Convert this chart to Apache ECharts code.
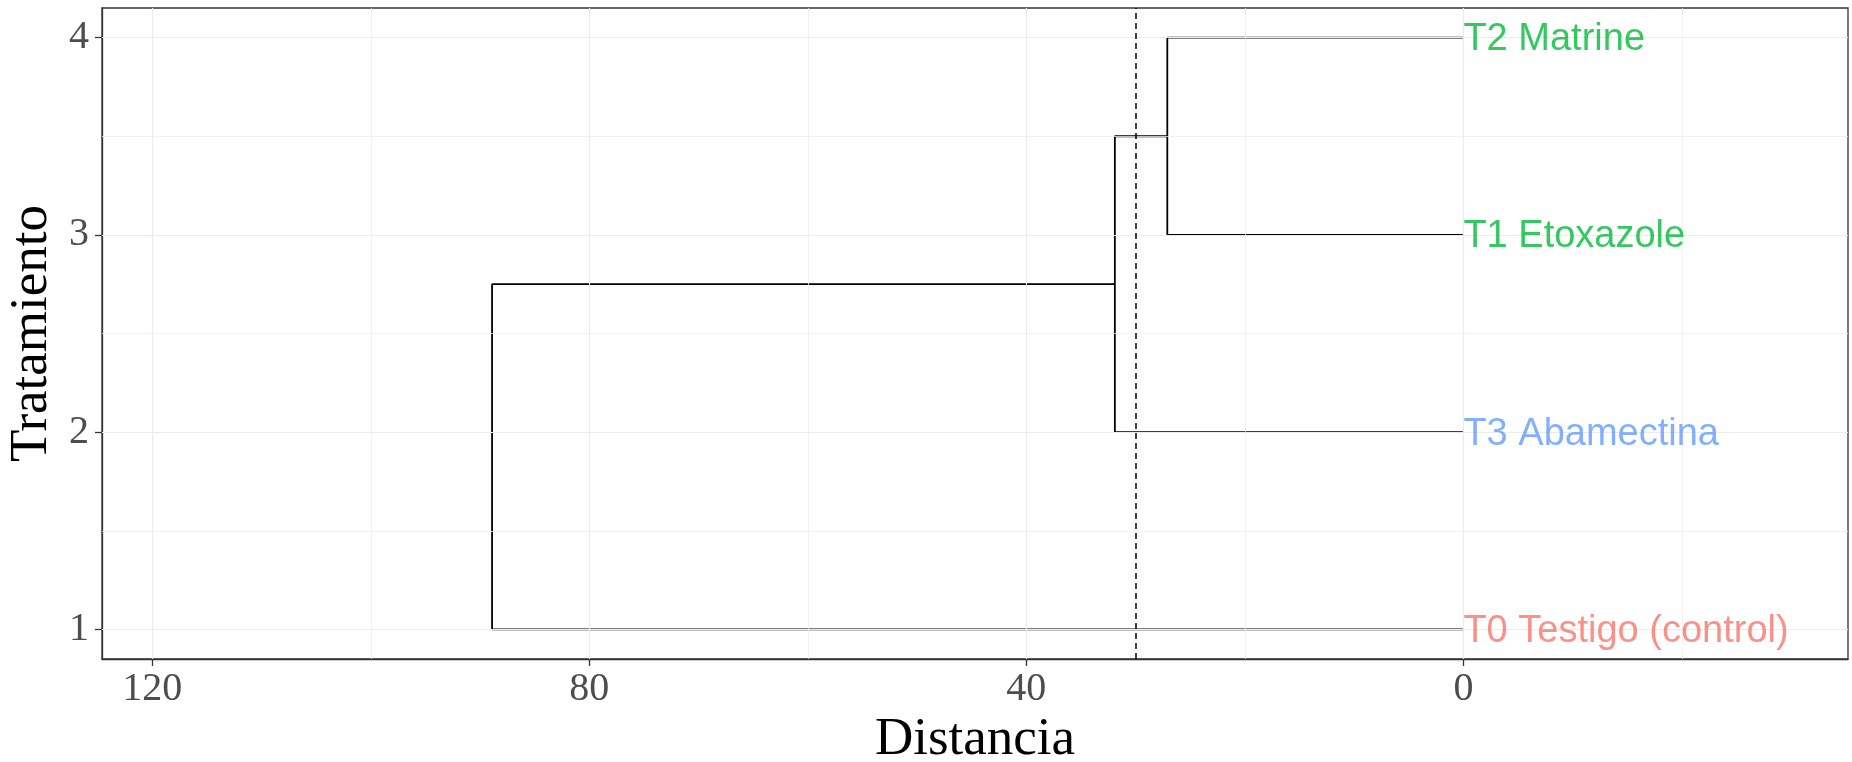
<!DOCTYPE html>
<html><head><meta charset="utf-8">
<script src="https://cdn.jsdelivr.net/npm/echarts@6/dist/echarts.min.js"></script>
<style>html,body{margin:0;padding:0;background:#fff}#c{width:1852px;height:762px}</style>
</head><body><div id="c"></div>
<script>
// ---- data ----
const leafLabels = ['T0 Testigo (control)', 'T3 Abamectina', 'T1 Etoxazole', 'T2 Matrine'];
const leafPositions = [1, 2, 3, 4];
const leafColors = ['#F8766D', '#619CFF', '#00BA38', '#00BA38'];
// hclust-style merges: negative = leaf (1-based), positive = earlier merge (1-based)
const mergePairs = [[-3, -4], [-2, 1], [-1, 2]];
const mergeHeights = [27.1, 31.9, 88.9];
const cutHeight = 30;
const xTicks = [120, 80, 40, 0];
const xMinorGrid = [100, 60, 20, -20];
const yTicks = [1, 2, 3, 4];
const yMinorGrid = [1.5, 2.5, 3.5];
const xRange = [-35.2, 124.6];
const yRange = [0.85, 4.15];

// ---- build dendrogram ----
const nodes = [];
function nodeOf(ref) { return ref < 0 ? { h: 0, y: leafPositions[-ref - 1] } : nodes[ref - 1]; }
const segSeries = [];
mergePairs.forEach((p, i) => {
  const a = nodeOf(p[0]), b = nodeOf(p[1]);
  const h = mergeHeights[i];
  nodes.push({ h: h, y: (a.y + b.y) / 2 });
  segSeries.push({
    type: 'line', z: 3, silent: true, showSymbol: false, symbol: 'none',
    lineStyle: { color: '#000', width: 1.8 },
    data: [[a.h, a.y], [h, a.y], [h, b.y], [b.h, b.y]]
  });
});

const serif = 'Liberation Serif, Times New Roman, serif';
const sans = 'Liberation Sans, Arial, sans-serif';

const gridSeries = {
  type: 'line', z: 1, silent: true, data: [],
  markLine: {
    silent: true, symbol: 'none', animation: false, label: { show: false },
    lineStyle: { color: '#EBEBEB', type: 'solid', width: 1.2 },
    data: [].concat(
      xTicks.map(v => ({ xAxis: v })),
      yTicks.map(v => ({ yAxis: v })),
      xMinorGrid.map(v => ({ xAxis: v, lineStyle: { width: 0.8, color: '#EFEFEF', type: 'solid' } })),
      yMinorGrid.map(v => ({ yAxis: v, lineStyle: { width: 0.8, color: '#EFEFEF', type: 'solid' } }))
    )
  }
};

const cutSeries = {
  type: 'line', z: 4, silent: true, data: [],
  markLine: {
    silent: true, symbol: 'none', animation: false, label: { show: false },
    lineStyle: { color: '#000', type: [6, 4], width: 1.5 },
    data: [{ xAxis: cutHeight }]
  }
};

const labelSeries = {
  type: 'scatter', z: 5, silent: true, symbolSize: 0,
  data: leafPositions.map((y, i) => ({ value: [0, y], label: { color: leafColors[i] } })),
  label: {
    show: true, position: 'right', distance: 0, offset: [0, 2],
    fontFamily: sans, fontSize: 38,
    formatter: p => leafLabels[p.dataIndex]
  }
};

const chart = echarts.init(document.getElementById('c'), null, { renderer: 'canvas' });
chart.setOption({
  animation: false,
  backgroundColor: '#fff',
  grid: { left: 102, right: 4, top: 8, bottom: 103, containLabel: false, outerBoundsMode: 'none',
          show: true, borderColor: '#333', borderWidth: 1.3, backgroundColor: '#fff' },
  xAxis: {
    type: 'value', inverse: true, min: xRange[0], max: xRange[1],
    axisLine: { show: true, onZero: false, lineStyle: { color: '#333', width: 1.3 } },
    splitLine: { show: false },
    axisTick: { show: true, customValues: xTicks, length: 7, lineStyle: { color: '#333', width: 1.3 } },
    axisLabel: { customValues: xTicks, fontSize: 40, fontFamily: serif, color: '#4D4D4D', margin: 10 },
    name: 'Distancia', nameLocation: 'middle', nameGap: 54,
    nameTextStyle: { fontSize: 53, fontFamily: serif, color: '#000' }
  },
  yAxis: {
    type: 'value', min: yRange[0], max: yRange[1],
    axisLine: { show: true, onZero: false, lineStyle: { color: '#333', width: 1.3 } },
    splitLine: { show: false },
    axisTick: { show: true, customValues: yTicks, length: 7, lineStyle: { color: '#333', width: 1.3 } },
    axisLabel: { customValues: yTicks, fontSize: 40, fontFamily: serif, color: '#4D4D4D', margin: 13 },
    name: 'Tratamiento', nameLocation: 'middle', nameGap: 8,
    nameTextStyle: { fontSize: 53, fontFamily: serif, color: '#000' }
  },
  series: [gridSeries].concat(segSeries, [cutSeries, labelSeries])
});
</script>
</body></html>
